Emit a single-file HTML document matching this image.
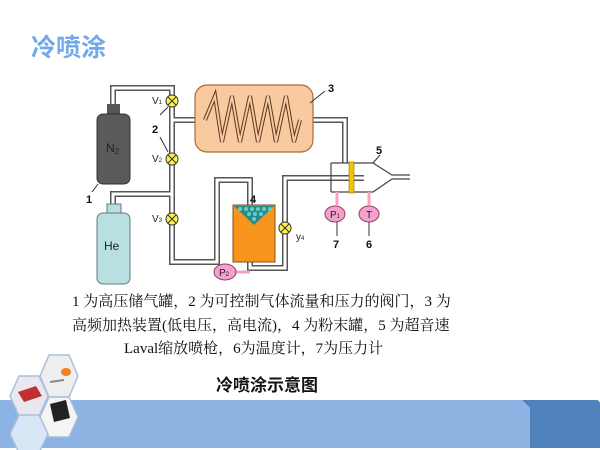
<!DOCTYPE html>
<html><head><meta charset="utf-8"><style>
body{margin:0;width:600px;height:450px;background:#fff;overflow:hidden;position:relative;font-family:"Liberation Serif","Noto Serif CJK SC",serif}
.t{position:absolute;white-space:nowrap}
</style></head><body>
<div class="t" style="left:31px;top:28px;font:bold 25px 'Liberation Sans','Noto Sans CJK SC',sans-serif;color:#72a9ee">冷喷涂</div>
<svg width="600" height="450" style="position:absolute;left:0;top:0">
<g fill="none" stroke="#555" stroke-width="6"><path d="M113 105 V88 H172 V220"/><path d="M113 205 V194 H172"/><path d="M172 120 H210"/><path d="M300 120 H345 V163"/><path d="M172 220 V262 H217 V180 H250 V268 H285 V178 H364"/></g>
<g fill="none" stroke="#fff" stroke-width="3"><path d="M113 105 V88 H172 V220"/><path d="M113 205 V194 H172"/><path d="M172 120 H210"/><path d="M300 120 H345 V163"/><path d="M172 220 V262 H217 V180 H250 V268 H285 V178 H364"/></g>
<rect x="195" y="85" width="118" height="67" rx="12" fill="#f9c9a0" stroke="#a86a3a" stroke-width="1.2"/>
<path d="M205 120 L215 96 L222 142 L232 96 L240 142 L250 96 L258 142 L268 96 L276 142 L286 96 L294 142 L300 120" fill="none" stroke="#5a3a20" stroke-width="4"/>
<path d="M205 120 L215 96 L222 142 L232 96 L240 142 L250 96 L258 142 L268 96 L276 142 L286 96 L294 142 L300 120" fill="none" stroke="#f9c9a0" stroke-width="2"/>
<rect x="107" y="104" width="13" height="11" fill="#555"/>
<rect x="97" y="114" width="33" height="70" rx="6" fill="#5a5a5a" stroke="#333"/>
<rect x="107" y="204" width="14" height="10" fill="#b8e0e0" stroke="#678"/>
<rect x="97" y="213" width="33" height="71" rx="6" fill="#b8e0e0" stroke="#678"/>
<text x="106" y="152" font-family="Liberation Sans" font-size="12" fill="#222">N<tspan font-size="8" dy="2">2</tspan></text>
<text x="104" y="250" font-family="Liberation Sans" font-size="12" fill="#222">He</text>
<rect x="233" y="205" width="42" height="57" fill="#f7941d" stroke="#8a5010"/>
<path d="M234 206 L274 206 L254 225 Z" fill="#2a8a8a"/>
<g fill="#6cc" ><circle cx="240" cy="209" r="2"/><circle cx="246" cy="209" r="2"/><circle cx="252" cy="209" r="2"/><circle cx="258" cy="209" r="2"/><circle cx="264" cy="209" r="2"/><circle cx="270" cy="209" r="2"/><circle cx="249" cy="214" r="2"/><circle cx="255" cy="214" r="2"/><circle cx="261" cy="214" r="2"/><circle cx="254" cy="219" r="2"/></g>
<path d="M331 163 H373 L392 175 H410 M331 192 H373 L392 179 H410 M331 163 V192" fill="none" stroke="#444" stroke-width="1.2"/>
<rect x="349" y="162" width="5" height="31" fill="#f5c400" stroke="#8a7000" stroke-width=".6"/>
<g stroke="#f4a0c8" stroke-width="3"><path d="M337 192 V205"/><path d="M369 192 V205"/><path d="M235 272 H250"/></g>
<g fill="#f4a0d0" stroke="#844"><ellipse cx="335" cy="214" rx="10" ry="8"/><ellipse cx="369" cy="214" rx="10" ry="8"/><ellipse cx="225" cy="272" rx="11" ry="8"/></g>
<g font-family="Liberation Sans" font-size="10" fill="#222"><text x="330" y="218">P<tspan font-size="6">1</tspan></text><text x="366" y="218">T</text><text x="219" y="276">P<tspan font-size="6">2</tspan></text>
<text x="152" y="104">V<tspan font-size="6">1</tspan></text><text x="152" y="162">V<tspan font-size="6">2</tspan></text><text x="152" y="222">V<tspan font-size="6">3</tspan></text><text x="296" y="240">y<tspan font-size="6">4</tspan></text></g>
<g stroke="#333" stroke-width="1"><path d="M337 222 V236"/><path d="M369 222 V236"/><path d="M160 115 L168 107"/><path d="M160 137 L168 152"/><path d="M98 184 L92 192"/><path d="M310 103 L325 91"/><path d="M373 163 L380 155"/></g>
<g font-family="Liberation Sans" font-weight="bold" font-size="11" fill="#111"><text x="152" y="133">2</text><text x="86" y="203">1</text><text x="328" y="92">3</text><text x="376" y="154">5</text><text x="250" y="203">4</text><text x="333" y="248">7</text><text x="366" y="248">6</text></g>
<g stroke="#333" stroke-width="1" fill="#ffee44"><circle cx="172" cy="101" r="6"/><circle cx="172" cy="159" r="6"/><circle cx="172" cy="219" r="6"/><circle cx="285" cy="228" r="6"/></g>
<g stroke="#333" stroke-width="1"><path d="M168 97l8 8M176 97l-8 8M168 155l8 8M176 155l-8 8M168 215l8 8M176 215l-8 8M281 224l8 8M289 224l-8 8"/></g>
<path d="M0 400 H522 L530 408 V448 H0 Z" fill="#8db3e2"/>
<path d="M522 400 H596 Q600 400 600 404 V448 H530 V408 Z" fill="#4f81bd"/>
<g stroke="#a8c0dd" stroke-width="1.5">
<path d="M10 396 L19 376 H39 L48 396 L39 416 H19 Z" fill="#e8e8ee"/>
<path d="M40 376 L49 355 H69 L78 376 L69 397 H49 Z" fill="#eee"/>
<path d="M40 417 L49 397 H69 L78 417 L69 437 H49 Z" fill="#f4f4f4"/>
<path d="M10 434 L19 415 H39 L48 434 L39 453 H19 Z" fill="#d8e6f6"/></g>
<path d="M18 392 L36 386 L42 396 L24 402 Z" fill="#c03030"/>
<path d="M50 404 L66 400 L70 418 L54 422 Z" fill="#222"/>
<ellipse cx="66" cy="372" rx="5" ry="4" fill="#f08020"/>
<path d="M50 382 L64 380" stroke="#888" stroke-width="2"/>
</svg>
<div class="t" style="left:72px;top:290px;font-size:15px;color:#111">1 为高压储气罐，2 为可控制气体流量和压力的阀门，3 为</div>
<div class="t" style="left:72px;top:314px;font-size:15px;color:#111">高频加热装置(低电压，高电流)，4 为粉末罐，5 为超音速</div>
<div class="t" style="left:124px;top:337px;font-size:15px;color:#111">Laval缩放喷枪，6为温度计，7为压力计</div>
<div class="t" style="left:216px;top:371px;font:bold 17px 'Liberation Sans','Noto Sans CJK SC',sans-serif;color:#111">冷喷涂示意图</div>
</body></html>
